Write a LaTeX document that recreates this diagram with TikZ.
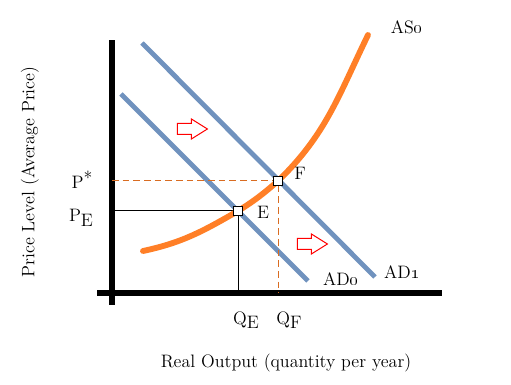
\documentclass[tikz,border=0pt]{standalone}
\usepackage{tikz}
\usetikzlibrary{arrows,positioning,shapes.arrows}

\definecolor{adblue}{RGB}{112,146,190}
\definecolor{asorange}{RGB}{255,127,39}

\begin{document}
\begin{tikzpicture}
	[x=0.75pt,y=0.75pt,font=\fontsize{13.5}{16}\selectfont,
		axis/.style={line width=3.8pt,black},
		demand/.style={line width=3.6pt,adblue},
		supply/.style={line width=4.4pt,asorange,line cap=round},
		guide/.style={line width=0.75pt},
		dashguide/.style={line width=0.75pt,asorange!85!black,dash pattern=on 5pt off 3pt},
		point node/.style={rectangle,draw,fill=white,line width=0.75pt,inner sep=0pt,minimum size=6.5pt},
		shift node/.style={single arrow,draw=red,fill=white,line width=0.75pt,inner sep=3.75pt,
			minimum height=22.5pt,single arrow head extend=3.4pt,single arrow tip angle=64}]

	\useasboundingbox (0,0) rectangle (511,385);

	% axes
	\coordinate (ytop) at (112,345);
	\coordinate (ybot) at (112,80);
	\coordinate (xleft) at (97,92);
	\coordinate (xright) at (442,92);
	\draw[axis] (ybot) -- (ytop);
	\draw[axis] (xleft) -- (xright);

	% demand lines
	\coordinate (ad1a) at (142,342);
	\coordinate (ad1b) at (375,108);
	\coordinate (ad0a) at (121,291);
	\coordinate (ad0b) at (308,104);
	\draw[demand] (ad1a) -- (ad1b);
	\draw[demand] (ad0a) -- (ad0b);

	% equilibrium points
	\coordinate (E) at (238,174);
	\coordinate (F) at (278,204);
	\coordinate (pstar) at (112,204);
	\coordinate (pe) at (112,174);
	\coordinate (qe) at (238,92);
	\coordinate (qf) at (278,92);

	\draw[dashguide] (pstar) -- (F) -- (qf);
	\draw[guide] (pe) -- (E) -- (qe);

	% supply curve
	\coordinate (as0a) at (143,134);
	\coordinate (as0b) at (368,350);
	\draw[supply] (as0a) to[out=12,in=-150] (E) to[out=32,in=-139] (F) to[out=44,in=-116] (as0b);

	\node[point node] (Ebox) at (E) {};
	\node[point node] (Fbox) at (F) {};

	% labels
	\node (Elab) at (263,173) {E};
	\node (Flab) at (300,212) {F};
	\node (Pstar) at (82,205) {P\raisebox{0.5ex}{*}};
	\node (PE) at (81,167) {P\raisebox{-0.6ex}{E}};
	\node (QE) at (246,65) {Q\raisebox{-0.6ex}{E}};
	\node (QF) at (289,65) {Q\raisebox{-0.6ex}{F}};
	\node (AS0) at (407,358) {AS\oldstylenums{0}};
	\node (AD0) at (341,106) {AD\oldstylenums{0}};
	\node (AD1) at (402,113) {AD\oldstylenums{1}};

	\node[shift node] (shift1) at (188,256) {};
	\node[shift node] (shift2) at (308,141) {};

	\node (xlab) at (286,22) {Real Output (quantity per year)};
	\node[rotate=90] (ylab) at (30,213) {Price Level (Average Price)};

\end{tikzpicture}
\end{document}
